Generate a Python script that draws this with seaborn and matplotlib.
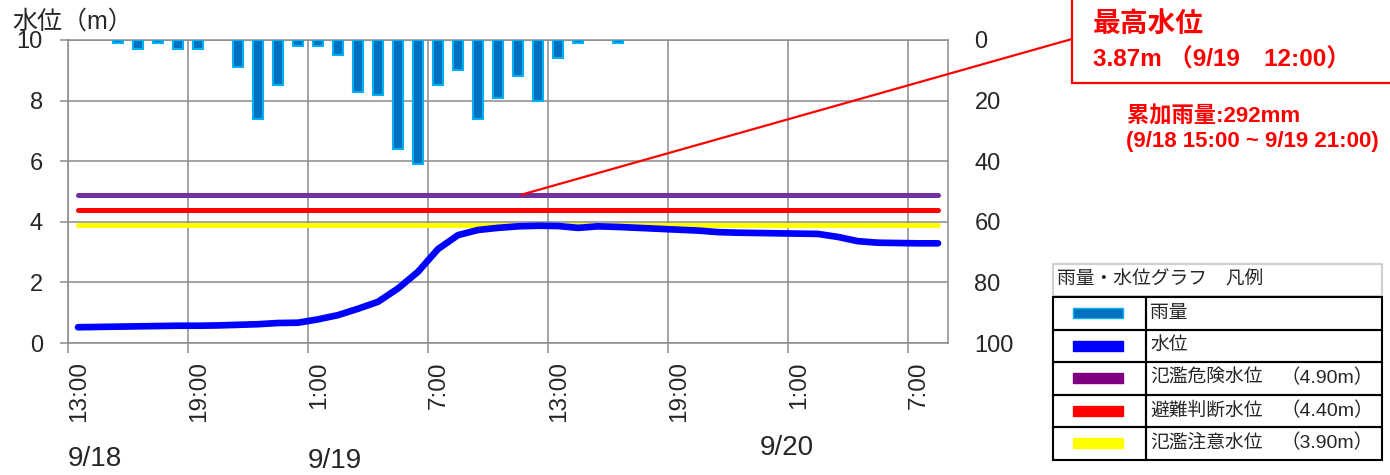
import numpy as np
import pandas as pd
import matplotlib
matplotlib.use('Agg')
import matplotlib.pyplot as plt
import seaborn as sns
from matplotlib.patches import Rectangle, ConnectionPatch
from matplotlib import font_manager

# hourly categories, index 0 = 9/18 13:00 ... index 43 = 9/20 8:00
tick_index = [0, 6, 12, 18, 24, 30, 36, 42]
tick_labels = ['13:00', '19:00', '1:00', '7:00', '13:00', '19:00', '1:00', '7:00']
date_labels = ['9/18', '9/19', '9/20']

rain_mm = [0, 0, 1, 3, 1, 3, 3, 0, 9, 26, 15, 2, 2, 5, 17, 18, 36, 41, 15, 10,
           26, 19, 12, 20, 6, 1, 0, 1, 0, 0, 0, 0, 0, 0, 0, 0, 0, 0, 0, 0,
           0, 0, 0, 0]
water_level = [0.52, 0.53, 0.54, 0.55, 0.56, 0.57, 0.57, 0.58, 0.60, 0.62,
               0.66, 0.67, 0.78, 0.92, 1.13, 1.36, 1.80, 2.35, 3.10, 3.56,
               3.73, 3.80, 3.85, 3.87, 3.86, 3.80, 3.85, 3.83, 3.80, 3.77,
               3.74, 3.71, 3.66, 3.64, 3.63, 3.62, 3.61, 3.60, 3.50, 3.36,
               3.31, 3.30, 3.29, 3.29]
danger_level = 4.90
evac_level = 4.40
warn_level = 3.90

legend_names = ['雨量', '水位', '氾濫危険水位', '避難判断水位', '氾濫注意水位']
legend_values = ['', '', '（4.90m）', '（4.40m）', '（3.90m）']
legend_colors = ['#0070C0', '#0000FF', '#7F0080', '#FF0000', '#FFFF00']

sns.set_theme(style='white')
plt.rcParams['font.family'] = ['Liberation Sans', 'Noto Sans CJK JP', 'DejaVu Sans']
installed = {f.name for f in font_manager.fontManager.ttflist}
narrow = 'Liberation Sans Narrow' if 'Liberation Sans Narrow' in installed else 'Liberation Sans'
date_size = 25 if narrow == 'Liberation Sans Narrow' else 20

W, H = 1390, 475
fx = lambda px: px / W
fy = lambda py: 1 - py / H

fig = plt.figure(figsize=(13.9, 4.75), dpi=100)
ax = fig.add_axes([fx(68), fy(343), fx(948) - fx(68), fy(40) - fy(343)])

pos = np.arange(len(water_level)) + 0.5
df = pd.DataFrame({'pos': pos, 'level': water_level})
rain = pd.DataFrame({'pos': pos, 'mm': rain_mm})
rain = rain[rain['mm'] > 0]

grid_c = '#8c8c8c'
for val, col in [(warn_level, '#FFFF00'), (evac_level, '#FF0000'), (danger_level, '#7030A0')]:
    sns.lineplot(x=pos, y=[val] * len(pos), ax=ax, color=col, linewidth=3.6,
                 solid_capstyle='round', zorder=3)
sns.lineplot(data=df, x='pos', y='level', ax=ax, color='#0000FF', linewidth=4.8,
             solid_capstyle='round', zorder=4)

ax.set_xlim(0, 44)
ax.set_ylim(0, 10)
ax.set_yticks([0, 2, 4, 6, 8, 10])
ax.set_xticks(tick_index)
ax.set_xticklabels(tick_labels, rotation=90, ha='left', va='top')
ax.set_xlabel('')
ax.set_ylabel('')
ax.grid(True, color=grid_c, linewidth=1.1)
ax.set_axisbelow(True)
ax.tick_params(axis='y', length=6, width=1.1, color=grid_c, pad=12, labelsize=17, left=True)
ax.tick_params(axis='x', length=7, width=1.1, color=grid_c, pad=6, labelsize=17.5, bottom=True)
for s in ax.spines.values():
    s.set_color(grid_c)
    s.set_linewidth(1.1)

ax2 = ax.twinx()
ax2.bar(rain['pos'], rain['mm'], width=0.5, color='#0070C0', edgecolor='#00B0F0',
        linewidth=1.5, zorder=2)
ax2.set_ylim(100, 0)
ax2.set_yticks([0, 20, 40, 60, 80, 100])
ax2.tick_params(axis='y', length=0, pad=19, labelsize=17)
for s in ax2.spines.values():
    s.set_visible(False)
ax2.grid(False)

# axis title and dates
fig.text(fx(12), fy(22), '水位（m）', fontsize=18, va='center', ha='left')
fig.text(fx(68), fy(446), date_labels[0], fontsize=date_size, family=narrow, va='top')
fig.text(fx(308), fy(448), date_labels[1], fontsize=date_size, family=narrow, va='top')
fig.text(fx(760), fy(435), date_labels[2], fontsize=date_size, family=narrow, va='top')

# max level callout
con = ConnectionPatch(xyA=(22.7, danger_level), coordsA=ax.transData,
                      xyB=(fx(1072), fy(39)), coordsB=fig.transFigure,
                      color='#FF0000', linewidth=1.6)
fig.add_artist(con)
fig.add_artist(Rectangle((fx(1072), fy(83)), fx(1400) - fx(1072), fy(-10) - fy(83),
                         transform=fig.transFigure, facecolor='white',
                         edgecolor='#FF0000', linewidth=1.6))
fig.text(fx(1093), fy(25), '最高水位', fontsize=20, fontweight='bold', color='#FF0000', va='center')
fig.text(fx(1093), fy(60), '3.87m （9/19\u300012:00）', fontsize=17.5, fontweight='bold',
         color='#FF0000', va='center')
fig.text(fx(1127), fy(117), '累加雨量:292mm', fontsize=16, fontweight='bold', color='#FF0000', va='center')
fig.text(fx(1126), fy(142), '(9/18 15:00 ~ 9/19 21:00)', fontsize=16, fontweight='bold',
         color='#FF0000', va='center')

# legend table
fig.add_artist(Rectangle((fx(1053), fy(296)), fx(1382) - fx(1053), fy(264) - fy(296),
                         transform=fig.transFigure, facecolor='white',
                         edgecolor='#d0d0d0', linewidth=1.5))
fig.text(fx(1057), fy(280), '雨量・水位グラフ\u3000凡例', fontsize=13.5, color='#262626', va='center')
row_top = 297
row_h = 32.5
for i, (name, val, col) in enumerate(zip(legend_names, legend_values, legend_colors)):
    y0 = row_top + i * row_h
    yc = y0 + row_h / 2
    for x0, x1 in [(1053, 1146), (1146, 1382)]:
        fig.add_artist(Rectangle((fx(x0), fy(y0 + row_h)), fx(x1) - fx(x0), fy(y0) - fy(y0 + row_h),
                                 transform=fig.transFigure, facecolor='none',
                                 edgecolor='black', linewidth=1.5))
    edge = '#00B0F0' if i == 0 else col
    fig.add_artist(Rectangle((fx(1073), fy(yc + 5)), fx(1123) - fx(1073), fy(yc - 5) - fy(yc + 5),
                             transform=fig.transFigure, facecolor=col, edgecolor=edge, linewidth=1))
    fig.text(fx(1150), fy(yc), name, fontsize=13.5, color='#262626', va='center')
    if val:
        fig.text(fx(1280), fy(yc), val, fontsize=14, color='#262626', va='center')

fig.savefig('out.png', dpi=100)
